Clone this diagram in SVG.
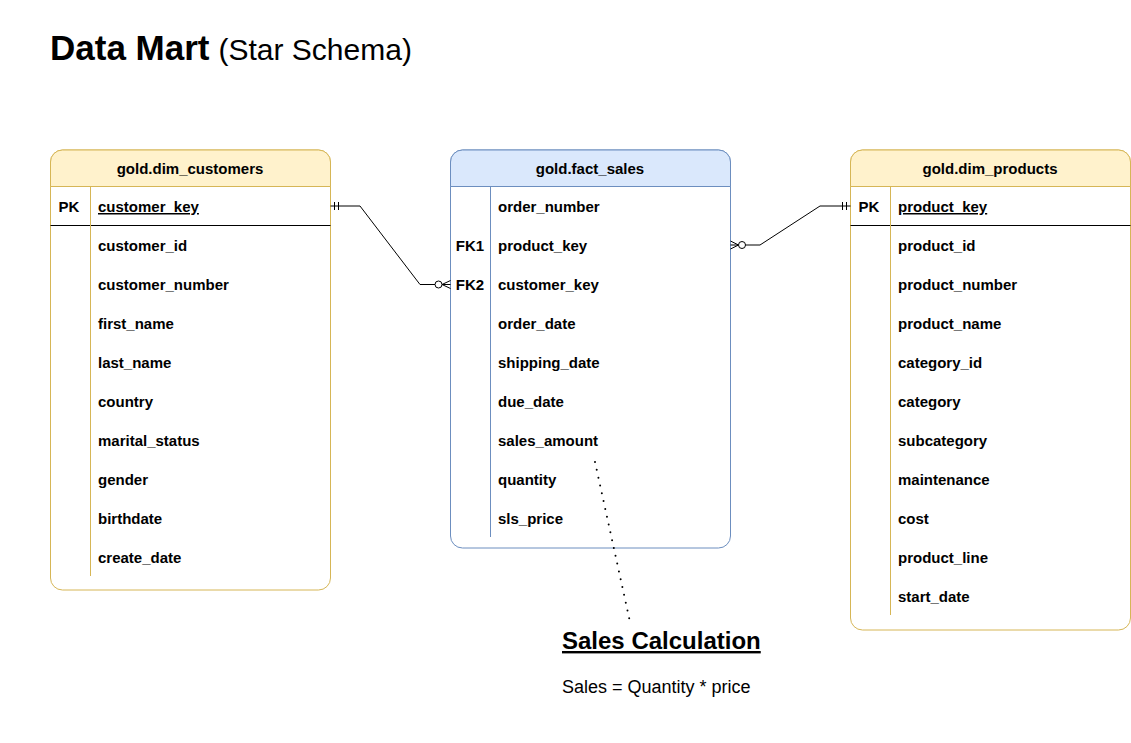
<svg xmlns="http://www.w3.org/2000/svg" width="1131" height="743" viewBox="0 0 1131 743">
<style>
text{font-family:"Liberation Sans",Arial,sans-serif;fill:#000}
.hd{font-size:15px;font-weight:bold;text-anchor:middle}
.r{font-size:15px;font-weight:bold}
.k{font-size:15px;font-weight:bold;text-anchor:middle}
.ybox{fill:#fff;stroke:#d6b656;stroke-width:1}
.yhd{fill:#fff2cc;stroke:#d6b656;stroke-width:1}
.bbox{fill:#fff;stroke:#6c8ebf;stroke-width:1}
.bhd{fill:#dae8fc;stroke:#6c8ebf;stroke-width:1}
.ydiv{stroke:#d6b656;stroke-width:1}
.bdiv{stroke:#6c8ebf;stroke-width:1}
.sep{stroke:#000;stroke-width:1}
.edge{fill:none;stroke:#000;stroke-width:1}
</style>
<rect width="1131" height="743" fill="#fff"/>
<g id="title">
<text x="50" y="60"><tspan font-size="35" font-weight="bold">Data Mart</tspan><tspan font-size="30" dx="9">(Star Schema)</tspan></text>
</g>
<g id="dim_customers">
<path class="ybox" d="M50.5,162 a12,12 0 0 1 12,-12 h256 a12,12 0 0 1 12,12 v416 a12,12 0 0 1 -12,12 h-256 a12,12 0 0 1 -12,-12 z"/>
<path class="yhd" d="M50.5,186.5 v-24.5 a12,12 0 0 1 12,-12 h256 a12,12 0 0 1 12,12 v24.5 z"/>
<line class="sep" x1="50.5" y1="225.5" x2="330.5" y2="225.5"/>
<line class="ydiv" x1="90.5" y1="186.5" x2="90.5" y2="576"/>
<text class="hd" x="190" y="174">gold.dim_customers</text>
<text class="k" x="69" y="212">PK</text>
<text class="r" x="98" y="212" text-decoration="underline">customer_key</text>
<text class="r" x="98" y="251">customer_id</text>
<text class="r" x="98" y="290">customer_number</text>
<text class="r" x="98" y="329">first_name</text>
<text class="r" x="98" y="368">last_name</text>
<text class="r" x="98" y="407">country</text>
<text class="r" x="98" y="446">marital_status</text>
<text class="r" x="98" y="485">gender</text>
<text class="r" x="98" y="524">birthdate</text>
<text class="r" x="98" y="563">create_date</text>
</g>
<g id="fact_sales">
<path class="bbox" d="M450.5,162 a12,12 0 0 1 12,-12 h256 a12,12 0 0 1 12,12 v374 a12,12 0 0 1 -12,12 h-256 a12,12 0 0 1 -12,-12 z"/>
<path class="bhd" d="M450.5,186.5 v-24.5 a12,12 0 0 1 12,-12 h256 a12,12 0 0 1 12,12 v24.5 z"/>
<line class="bdiv" x1="490.5" y1="186.5" x2="490.5" y2="537"/>
<text class="hd" x="590" y="174">gold.fact_sales</text>
<text class="k" x="470" y="251">FK1</text>
<text class="k" x="470" y="290">FK2</text>
<text class="r" x="498" y="212">order_number</text>
<text class="r" x="498" y="251">product_key</text>
<text class="r" x="498" y="290">customer_key</text>
<text class="r" x="498" y="329">order_date</text>
<text class="r" x="498" y="368">shipping_date</text>
<text class="r" x="498" y="407">due_date</text>
<text class="r" x="498" y="446">sales_amount</text>
<text class="r" x="498" y="485">quantity</text>
<text class="r" x="498" y="524">sls_price</text>
</g>
<g id="dim_products">
<path class="ybox" d="M850.5,162 a12,12 0 0 1 12,-12 h256 a12,12 0 0 1 12,12 v456 a12,12 0 0 1 -12,12 h-256 a12,12 0 0 1 -12,-12 z"/>
<path class="yhd" d="M850.5,186.5 v-24.5 a12,12 0 0 1 12,-12 h256 a12,12 0 0 1 12,12 v24.5 z"/>
<line class="sep" x1="850.5" y1="225.5" x2="1130.5" y2="225.5"/>
<line class="ydiv" x1="890.5" y1="186.5" x2="890.5" y2="615"/>
<text class="hd" x="990" y="174">gold.dim_products</text>
<text class="k" x="869" y="212">PK</text>
<text class="r" x="898" y="212" text-decoration="underline">product_key</text>
<text class="r" x="898" y="251">product_id</text>
<text class="r" x="898" y="290">product_number</text>
<text class="r" x="898" y="329">product_name</text>
<text class="r" x="898" y="368">category_id</text>
<text class="r" x="898" y="407">category</text>
<text class="r" x="898" y="446">subcategory</text>
<text class="r" x="898" y="485">maintenance</text>
<text class="r" x="898" y="524">cost</text>
<text class="r" x="898" y="563">product_line</text>
<text class="r" x="898" y="602">start_date</text>
</g>
<g id="connectors">
<path class="edge" d="M330.5,206 H360 L420,284.5 H450.5"/>
<line class="edge" x1="334.5" y1="202" x2="334.5" y2="210"/>
<line class="edge" x1="338.5" y1="202" x2="338.5" y2="210"/>
<path class="edge" d="M442,284.5 L450.5,280.5 M442,284.5 L450.5,288.5"/>
<circle cx="438.5" cy="284.5" r="3.5" fill="#fff" stroke="#000" stroke-width="1"/>
<path class="edge" d="M850.5,206 H820 L760,245 H730.5"/>
<line class="edge" x1="842.5" y1="202" x2="842.5" y2="210"/>
<line class="edge" x1="846.5" y1="202" x2="846.5" y2="210"/>
<path class="edge" d="M738.5,245 L730.5,241 M738.5,245 L730.5,249"/>
<circle cx="742" cy="245" r="3.5" fill="#fff" stroke="#000" stroke-width="1"/>
<line x1="595" y1="462" x2="630" y2="622" stroke="#000" stroke-width="2" stroke-linecap="round" stroke-dasharray="0 8"/>
</g>
<g id="note">
<text x="562" y="649" font-size="24" font-weight="bold" text-decoration="underline">Sales Calculation</text>
<text x="562" y="693" font-size="18">Sales = Quantity * price</text>
</g>
</svg>
